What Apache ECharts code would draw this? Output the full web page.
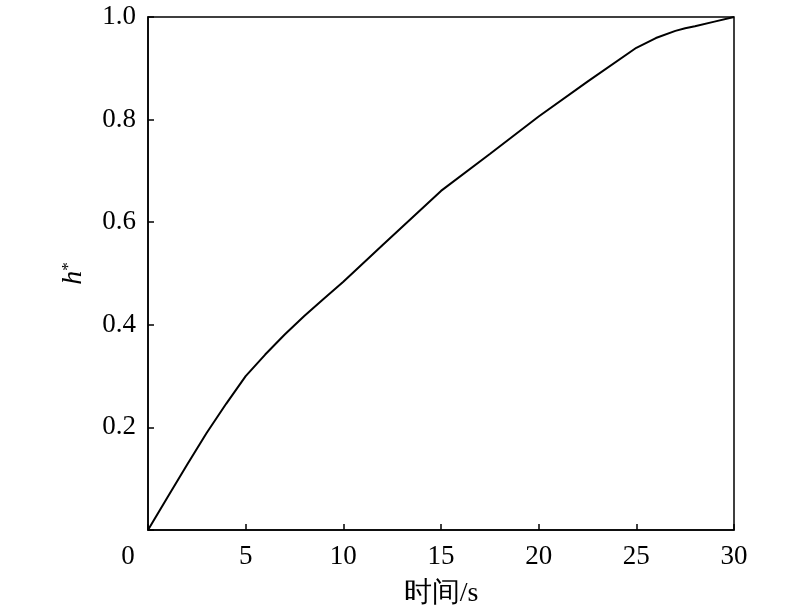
<!DOCTYPE html>
<html><head><meta charset="utf-8">
<script src="https://cdn.jsdelivr.net/npm/echarts@6/dist/echarts.min.js"></script>
<style>html,body{margin:0;padding:0;background:#fff}#c{width:800px;height:613px}</style>
</head><body><div id="c"></div>
<script>
const timeValues = [0, 1, 2, 3, 4, 5, 6, 7, 8, 9, 10, 12, 15, 17.5, 20, 22.5, 25, 26, 27, 27.5, 28, 29, 30];
const hValues    = [0, 0.064, 0.127, 0.189, 0.246, 0.300, 0.342, 0.381, 0.417, 0.451, 0.484, 0.555, 0.661, 0.733, 0.806, 0.874, 0.940, 0.959, 0.973, 0.978, 0.982, 0.991, 1.0];
const xTicks = [0, 5, 10, 15, 20, 25, 30];
const yTicks = [0.2, 0.4, 0.6, 0.8, 1.0];
const xName = '时间/s';

const chart = echarts.init(document.getElementById('c'));
const font = "'Liberation Serif', 'Times New Roman', serif";
chart.setOption({
  animation: false,
  backgroundColor: '#fff',
  grid: {left: 148, right: 66, top: 17, bottom: 81, show: true, borderColor: '#000', borderWidth: 1.5, backgroundColor: 'transparent'},
  xAxis: {
    type: 'value', min: 0, max: 30, interval: 5,
    name: xName, nameLocation: 'middle', nameGap: 50,
    nameTextStyle: {fontFamily: font, fontSize: 28, color: '#000'},
    axisLine: {show: true, lineStyle: {color: '#000', width: 1.5}},
    axisTick: {show: true, inside: true, length: 6, lineStyle: {color: '#000', width: 1.5}},
    splitLine: {show: false},
    axisLabel: {
      fontFamily: font, fontSize: 27, color: '#000', margin: 13,
      formatter: v => (xTicks.indexOf(v) < 0 ? '' : (v === 0 ? '{z|0}' : String(v))),
      rich: {z: {fontFamily: font, fontSize: 27, color: '#000', padding: [0, 40, 0, 0]}}
    }
  },
  yAxis: {
    type: 'value', min: 0, max: 1, interval: 0.2,
    name: '{i|h}{s|*}', nameLocation: 'middle', nameGap: 60,
    nameTextStyle: {fontFamily: font, fontSize: 27, color: '#000',
      rich: {i: {fontFamily: font, fontSize: 28, fontStyle: 'italic', color: '#000'},
             s: {fontFamily: font, fontSize: 17, color: '#000', verticalAlign: 'top', padding: [0, 0, 10, 0]}}},
    axisLine: {show: true, lineStyle: {color: '#000', width: 1.5}},
    axisTick: {show: true, inside: true, length: 6, lineStyle: {color: '#000', width: 1.5}},
    splitLine: {show: false},
    axisLabel: {
      fontFamily: font, fontSize: 27, color: '#000', margin: 12,
      formatter: v => {
        const t = yTicks.find(y => Math.abs(y - v) < 1e-9);
        return t === undefined ? '' : t.toFixed(1);
      }
    }
  },
  series: [{
    type: 'line', showSymbol: false, smooth: false,
    lineStyle: {color: '#000', width: 2},
    data: timeValues.map((t, i) => [t, hValues[i]])
  }]
});
</script></body></html>
